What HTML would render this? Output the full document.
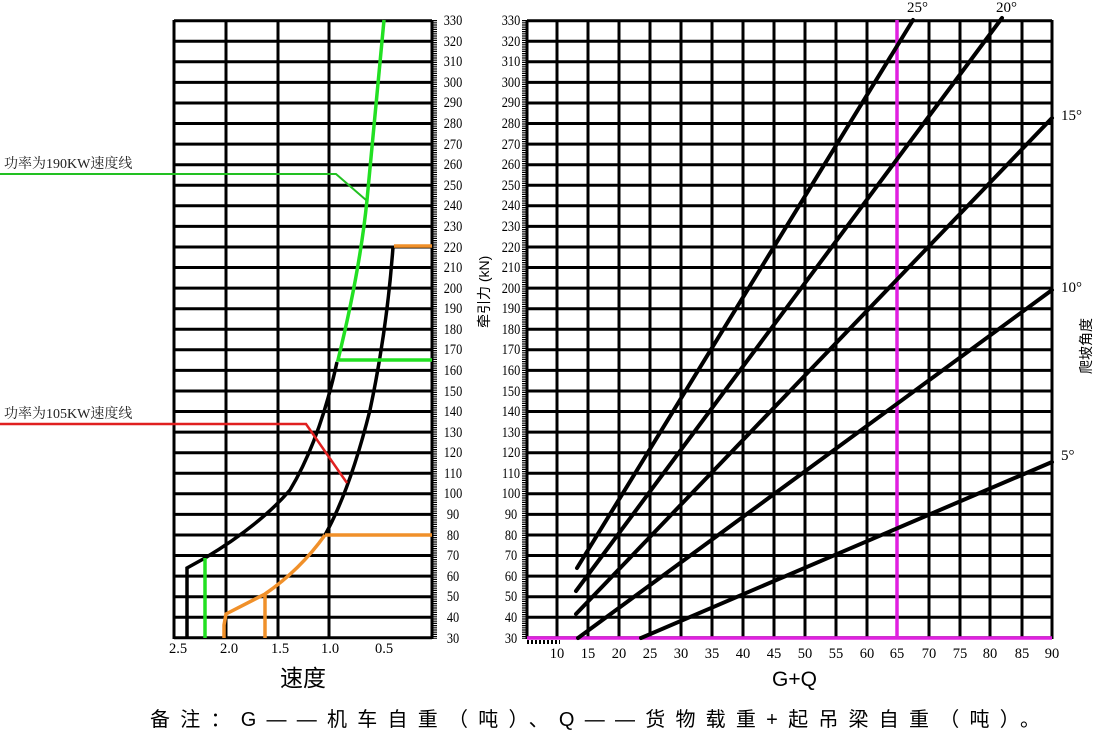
<!DOCTYPE html>
<html><head><meta charset="utf-8"><style>
html,body{margin:0;padding:0;background:#fff;}
svg{display:block;}
text{font-family:"Liberation Serif","Noto Serif CJK SC",serif;}
.cj{font-family:"Liberation Sans","Noto Sans CJK SC",sans-serif;}
</style></head><body>
<svg width="1095" height="734" viewBox="0 0 1095 734" xmlns="http://www.w3.org/2000/svg">
<rect width="1095" height="734" fill="#fff"/>
<g stroke="#000" stroke-width="3" fill="none">
<path d="M174 20.7H432M174 41.3H432M174 61.8H432M174 82.4H432M174 103H432M174 123.5H432M174 144.1H432M174 164.7H432M174 185.3H432M174 205.8H432M174 226.4H432M174 247H432M174 267.5H432M174 288.1H432M174 308.7H432M174 329.3H432M174 349.8H432M174 370.4H432M174 391H432M174 411.5H432M174 432.1H432M174 452.7H432M174 473.3H432M174 493.8H432M174 514.4H432M174 535H432M174 555.5H432M174 576.1H432M174 596.7H432M174 617.3H432M174 637.8H432"/>
<path d="M174 20V639M226 20V639M278 20V639M329 20V639M432 20V639"/>
</g>
<path d="M434.5 20V639" stroke="#000" stroke-width="5" stroke-dasharray="1.2 1"/>
<g stroke="#000" stroke-width="3" fill="none" transform="translate(527 0) scale(2.0349 1) translate(-174 0)">
<path d="M174 20.7H432M174 41.3H432M174 61.8H432M174 82.4H432M174 103H432M174 123.5H432M174 144.1H432M174 164.7H432M174 185.3H432M174 205.8H432M174 226.4H432M174 247H432M174 267.5H432M174 288.1H432M174 308.7H432M174 329.3H432M174 349.8H432M174 370.4H432M174 391H432M174 411.5H432M174 432.1H432M174 452.7H432M174 473.3H432M174 493.8H432M174 514.4H432M174 535H432M174 555.5H432M174 576.1H432M174 596.7H432M174 617.3H432M174 637.8H432"/>
</g>
<g stroke="#000" stroke-width="3">
<path d="M527 20V639M557 20V639M588 20V639M619 20V639M650 20V639M681 20V639M712 20V639M743 20V639M774 20V639M805 20V639M836 20V639M867 20V639M929 20V639M960 20V639M990 20V639M1022 20V639M1052 20V639"/>
</g>
<path d="M524.5 20V639" stroke="#000" stroke-width="5" stroke-dasharray="1.2 1"/>
<path d="M527 642H560" stroke="#000" stroke-width="4" stroke-dasharray="2 2"/>
<path d="M897 20V639M527 638H1052" stroke="#e020e0" stroke-width="3.5"/>
<g stroke="#000" stroke-width="4" stroke-linecap="round">
<path d="M577 568L913 20"/>
<path d="M576 591L1002 18"/>
<path d="M576 614L1052 118"/>
<path d="M578 638L1052 290"/>
<path d="M641 638L1052 462"/>
</g>
<g fill="none" stroke-width="3.5">
<path d="M187 638V568L205 558Q260 525 290 490Q320 440 337 362" stroke="#000"/>
<path d="M393 247Q387 330 370 410Q350 490 325 535" stroke="#000"/>
<path d="M325 535H432M325 535Q300 570 265 594L226 614L224 625V638M265 594V638M394 246H432" stroke="#f0902a"/>
<path d="M384 20L367 200Q360 270 338 360H432M205 558V638" stroke="#22e022"/>
<path d="M0 174H336L366 200" stroke="#22c022" stroke-width="2"/>
<path d="M0 424H306L347 483" stroke="#e02020" stroke-width="2.5"/>
</g>
<g font-size="14.5" text-anchor="middle">
<g transform="translate(453 0) scale(0.85 1)">
<text x="0" y="25">330</text><text x="0" y="46">320</text><text x="0" y="66">310</text><text x="0" y="87">300</text><text x="0" y="107">290</text><text x="0" y="128">280</text><text x="0" y="149">270</text><text x="0" y="169">260</text><text x="0" y="190">250</text><text x="0" y="210">240</text><text x="0" y="231">230</text><text x="0" y="252">220</text><text x="0" y="272">210</text><text x="0" y="293">200</text><text x="0" y="313">190</text><text x="0" y="334">180</text><text x="0" y="354">170</text><text x="0" y="375">160</text><text x="0" y="396">150</text><text x="0" y="416">140</text><text x="0" y="437">130</text><text x="0" y="457">120</text><text x="0" y="478">110</text><text x="0" y="498">100</text><text x="0" y="519">90</text><text x="0" y="540">80</text><text x="0" y="560">70</text><text x="0" y="581">60</text><text x="0" y="601">50</text><text x="0" y="622">40</text><text x="0" y="643">30</text>
</g>
<g transform="translate(511 0) scale(0.85 1)">
<text x="0" y="25">330</text><text x="0" y="46">320</text><text x="0" y="66">310</text><text x="0" y="87">300</text><text x="0" y="107">290</text><text x="0" y="128">280</text><text x="0" y="149">270</text><text x="0" y="169">260</text><text x="0" y="190">250</text><text x="0" y="210">240</text><text x="0" y="231">230</text><text x="0" y="252">220</text><text x="0" y="272">210</text><text x="0" y="293">200</text><text x="0" y="313">190</text><text x="0" y="334">180</text><text x="0" y="354">170</text><text x="0" y="375">160</text><text x="0" y="396">150</text><text x="0" y="416">140</text><text x="0" y="437">130</text><text x="0" y="457">120</text><text x="0" y="478">110</text><text x="0" y="498">100</text><text x="0" y="519">90</text><text x="0" y="540">80</text><text x="0" y="560">70</text><text x="0" y="581">60</text><text x="0" y="601">50</text><text x="0" y="622">40</text><text x="0" y="643">30</text>
</g>
<text x="178" y="653">2.5</text><text x="229" y="653">2.0</text><text x="280" y="653">1.5</text><text x="330" y="653">1.0</text><text x="384" y="653">0.5</text>
<text x="557" y="658">10</text><text x="588" y="658">15</text><text x="619" y="658">20</text><text x="650" y="658">25</text><text x="681" y="658">30</text><text x="712" y="658">35</text><text x="743" y="658">40</text><text x="774" y="658">45</text><text x="805" y="658">50</text><text x="836" y="658">55</text><text x="867" y="658">60</text><text x="897" y="658">65</text><text x="929" y="658">70</text><text x="960" y="658">75</text><text x="990" y="658">80</text><text x="1022" y="658">85</text><text x="1052" y="658">90</text>
</g>
<g font-size="15">
<text x="907" y="12">25°</text><text x="996" y="12">20°</text><text x="1061" y="120">15°</text><text x="1061" y="292">10°</text><text x="1061" y="460">5°</text>
</g>
<g class="cj" font-size="14" fill="#222">
<text x="4" y="168">功率为190KW速度线</text>
<text x="4" y="418">功率为105KW速度线</text>
</g>
<text class="cj" font-size="14" transform="translate(489 328) rotate(-90)">牵引力 (kN)</text>
<text class="cj" font-size="14" transform="translate(1091 374) rotate(-90)">爬坡角度</text>
<text class="cj" font-size="23" x="280" y="686">速度</text>
<text class="cj" font-size="21" x="772" y="686">G+Q</text>
<text class="cj" font-size="20" x="150" y="726" textLength="890" lengthAdjust="spacing">备注：G——机车自重（吨）、Q——货物载重+起吊梁自重（吨）。</text>
</svg>
</body></html>
